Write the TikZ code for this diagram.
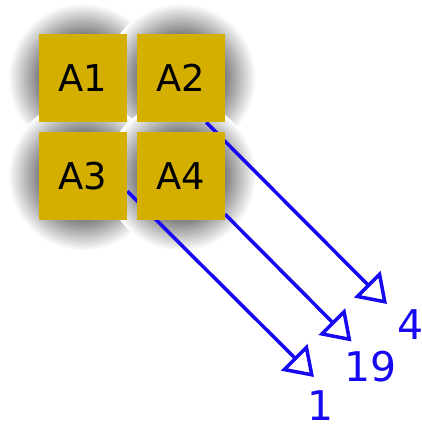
\documentclass[tikz,border=0pt]{standalone}
\usepackage{fontspec}
\setmainfont{DejaVu Sans}
\usetikzlibrary{arrows.meta,positioning}
\definecolor{boxgold}{HTML}{D4AF00}
\definecolor{wireblue}{HTML}{1608F2}
\colorlet{haloA}{black!50}
\pgfdeclareradialshading{halo}{\pgfpointorigin}{color(0bp)=(haloA); color(14.7bp)=(haloA); color(25bp)=(white); color(50bp)=(white)}
\pgfdeclarelayer{halo}
\pgfdeclarelayer{wire}
\pgfsetlayers{halo,wire,main}

\begin{document}
\begin{tikzpicture}[
node distance=0.18cm,
sqbox/.style={rectangle, fill=boxgold, minimum size=1.76cm, inner sep=0pt, font=\fontsize{21}{25}\selectfont},
link/.style={-{Triangle[open, length=0.56cm, width=0.74cm]}, line width=0.07cm, wireblue},
lbl/.style={inner sep=0pt, text=wireblue, font=\fontsize{23.3}{28}\selectfont}
]
\useasboundingbox (0,0) rectangle (8.44,-8.56);

% --- Squares ---
\node (a1) [sqbox] at (1.66,-1.56) {A1};
\node (a2) [sqbox, right=of a1] {A2};
\node (a3) [sqbox, below=of a1] {A3};
\node (a4) [sqbox, right=of a3] {A4};

% --- Shadows ---
\begin{pgfonlayer}{halo}
\foreach \n in {a1,a2,a3,a4}
  \shade[shading=halo] (\n.center) circle (1.5cm);
\end{pgfonlayer}

% --- Arrow ends and labels ---
\coordinate (t4) at (7.74,-6.08);
\coordinate (t19) at (7.03,-6.83);
\coordinate (t1) at (6.28,-7.54);
\node (l4) [lbl] at (8.21,-6.50) {4};
\node (l19) [lbl] at (7.42,-7.34) {19};
\node (l1) [lbl] at (6.42,-8.11) {1};

% --- Links ---
\begin{pgfonlayer}{wire}
\draw [link] ([xshift=0.51cm]a2.south) -- (t4);
\draw [link] ([yshift=-0.77cm]a4.east) -- (t19);
\draw [link] ([yshift=-0.31cm]a3.east) -- (t1);
\end{pgfonlayer}

\end{tikzpicture}
\end{document}
